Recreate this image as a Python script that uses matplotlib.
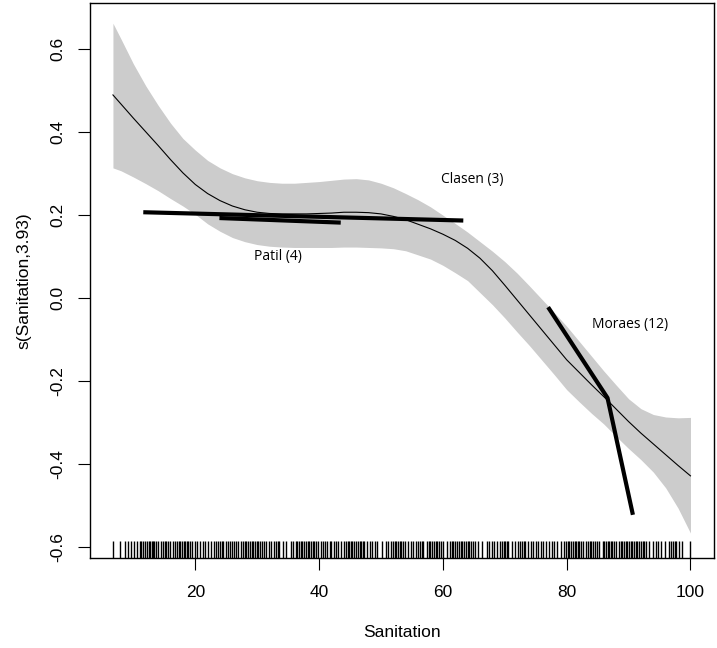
import matplotlib
matplotlib.use('Agg')
import matplotlib.pyplot as plt

# smooth term s(Sanitation)
san_x = [6.7, 8, 10, 12, 14, 16, 18, 20, 22, 24, 26, 28, 30, 32, 34, 36, 38, 40, 42, 44,
         46, 48, 50, 52, 54, 56, 58, 60, 62, 64, 66, 68, 70, 72, 74, 76, 78, 80, 82, 84,
         86, 88, 90, 92, 94, 96, 98, 100]
fit = [0.490, 0.468, 0.434, 0.401, 0.368, 0.334, 0.302, 0.274, 0.252, 0.235, 0.222, 0.213,
       0.207, 0.204, 0.203, 0.203, 0.203, 0.204, 0.205, 0.207, 0.207, 0.206, 0.203, 0.197,
       0.189, 0.178, 0.167, 0.154, 0.139, 0.120, 0.096, 0.066, 0.031, -0.005, -0.041,
       -0.077, -0.113, -0.149, -0.179, -0.209, -0.238, -0.268, -0.298, -0.326, -0.352,
       -0.378, -0.404, -0.429]
upper = [0.663, 0.625, 0.565, 0.512, 0.465, 0.422, 0.385, 0.357, 0.332, 0.314, 0.300,
         0.290, 0.283, 0.279, 0.277, 0.277, 0.279, 0.281, 0.284, 0.287, 0.288, 0.285, 0.277,
         0.266, 0.252, 0.237, 0.220, 0.200, 0.180, 0.159, 0.136, 0.113, 0.088, 0.060, 0.029,
         -0.003, -0.035, -0.068, -0.104, -0.140, -0.176, -0.210, -0.243, -0.267, -0.281,
         -0.287, -0.289, -0.288]
lower = [0.314, 0.307, 0.292, 0.276, 0.259, 0.240, 0.222, 0.202, 0.179, 0.161, 0.146,
         0.136, 0.129, 0.125, 0.123, 0.122, 0.122, 0.122, 0.122, 0.123, 0.123, 0.122, 0.121,
         0.119, 0.114, 0.104, 0.094, 0.079, 0.061, 0.042, 0.013, -0.016, -0.048, -0.082,
         -0.115, -0.150, -0.185, -0.221, -0.250, -0.278, -0.304, -0.334, -0.363, -0.390,
         -0.420, -0.458, -0.507, -0.567]

# study-level slopes
clasen_x = [11.6, 63.3]
clasen_y = [0.207, 0.187]
patil_x = [23.9, 43.5]
patil_y = [0.193, 0.182]
moraes_x = [77.0, 86.6, 90.7]
moraes_y = [-0.022, -0.241, -0.523]

study_labels = ['Clasen (3)', 'Patil (4)', 'Moraes (12)']
label_x = [64.8, 33.3, 90.2]
label_y = [0.287, 0.100, -0.064]

# observed sanitation values (rug)
rug = [6.7, 7.9, 8.6, 9.2, 9.6, 10.1, 10.6, 11.0, 11.3, 11.6, 11.9, 12.2, 12.5, 12.7,
       13.0, 13.2, 13.4, 13.7, 14.0, 14.5, 14.8, 15.1, 15.3, 15.6, 15.9, 16.4, 16.7, 17.0,
       17.3, 17.5, 17.8, 18.1, 18.3, 18.6, 18.9, 19.2, 19.4, 19.9, 20.3, 20.7, 21.2, 21.6,
       22.1, 22.6, 23.1, 23.4, 23.7, 24.0, 24.3, 24.5, 25.0, 25.3, 25.6, 25.9, 26.2, 26.5,
       26.9, 27.4, 27.7, 28.0, 28.2, 28.5, 28.8, 29.1, 29.4, 29.6, 29.9, 30.2, 30.5, 30.8,
       31.1, 31.5, 31.9, 32.3, 32.7, 33.0, 33.3, 33.5, 34.1, 34.7, 35.4, 35.8, 36.2, 36.5,
       36.8, 37.1, 37.3, 37.6, 37.9, 38.2, 38.4, 38.7, 39.0, 39.2, 39.5, 39.9, 40.3, 40.6,
       41.0, 41.3, 41.7, 42.0, 42.4, 42.8, 43.1, 43.5, 44.0, 44.3, 44.6, 44.9, 45.1, 45.4,
       45.7, 46.0, 46.3, 46.6, 46.8, 47.1, 47.3, 47.8, 48.2, 48.6, 49.0, 49.4, 50.1, 50.8,
       51.2, 51.6, 51.9, 52.2, 52.5, 52.8, 53.0, 53.3, 53.6, 53.9, 54.4, 54.8, 55.2, 55.6,
       56.0, 56.3, 56.6, 56.8, 57.4, 57.7, 58.0, 58.3, 58.6, 58.9, 59.1, 59.3, 59.7, 60.1,
       60.6, 61.1, 61.4, 61.7, 62.0, 62.3, 62.6, 62.9, 63.1, 63.4, 63.7, 64.0, 64.3, 64.6,
       64.9, 65.2, 65.7, 66.4, 67.1, 67.5, 67.9, 68.3, 68.7, 69.2, 69.5, 69.8, 70.1, 70.4,
       70.6, 71.1, 71.7, 72.2, 72.5, 72.8, 73.1, 73.3, 73.8, 74.2, 74.6, 75.0, 75.4, 75.8,
       76.2, 76.7, 77.2, 77.6, 78.0, 78.5, 79.1, 79.5, 79.9, 80.2, 80.4, 80.7, 81.0, 81.3,
       81.5, 81.8, 82.0, 82.3, 82.6, 83.1, 83.4, 83.7, 83.9, 84.2, 84.5, 84.9, 85.3, 85.8,
       86.1, 86.3, 86.6, 86.9, 87.2, 87.4, 87.7, 88.0, 88.5, 88.8, 89.0, 89.3, 89.6, 89.8,
       90.1, 90.4, 90.6, 90.9, 91.2, 91.4, 91.7, 92.0, 92.3, 92.5, 92.8, 93.3, 93.9, 94.4,
       94.8, 95.2, 95.9, 96.6, 96.9, 97.2, 97.5, 97.7, 98.2, 98.7, 100.0]

xticks = [20, 40, 60, 80, 100]
yticks = [-0.6, -0.4, -0.2, 0.0, 0.2, 0.4, 0.6]
ytick_labels = ['-0.6', '-0.4', '-0.2', '0.0', '0.2', '0.4', '0.6']

plt.rcParams['font.family'] = ['Liberation Sans', 'DejaVu Sans']

fig = plt.figure(figsize=(7.17, 6.48), dpi=100)
ax = fig.add_axes([0.1255, 0.139, 0.8703, 0.8565])

ax.fill_between(san_x, lower, upper, color='#cccccc', linewidth=0)
ax.plot(san_x, fit, color='black', linewidth=0.8)

ax.plot(clasen_x, clasen_y, color='black', linewidth=3, solid_capstyle='butt')
ax.plot(patil_x, patil_y, color='black', linewidth=3, solid_capstyle='butt')
ax.plot(moraes_x, moraes_y, color='black', linewidth=3, solid_capstyle='butt')

for lab, lx, ly in zip(study_labels, label_x, label_y):
    ax.text(lx, ly, lab, ha='center', va='center', fontsize=10,
            family=['Open Sans', 'DejaVu Sans'])

ax.vlines(rug, 0, 0.03, transform=ax.get_xaxis_transform(), color='black', linewidth=1.0)

ax.set_xlim(2.99, 103.8)
ax.set_ylim(-0.627, 0.712)
ax.set_xticks(xticks)
ax.set_yticks(yticks)
ax.set_yticklabels(ytick_labels, rotation=90, va='center')
ax.tick_params(axis='both', length=8.5, width=0.8, labelsize=12.5)
ax.tick_params(axis='x', pad=11)
ax.tick_params(axis='y', pad=9)
for sp in ax.spines.values():
    sp.set_linewidth(1.0)

ax.set_xlabel('Sanitation', fontsize=12.5, labelpad=18)
ax.set_ylabel('s(Sanitation,3.93)', fontsize=12.5, labelpad=14)

fig.savefig('out.png', dpi=100)
